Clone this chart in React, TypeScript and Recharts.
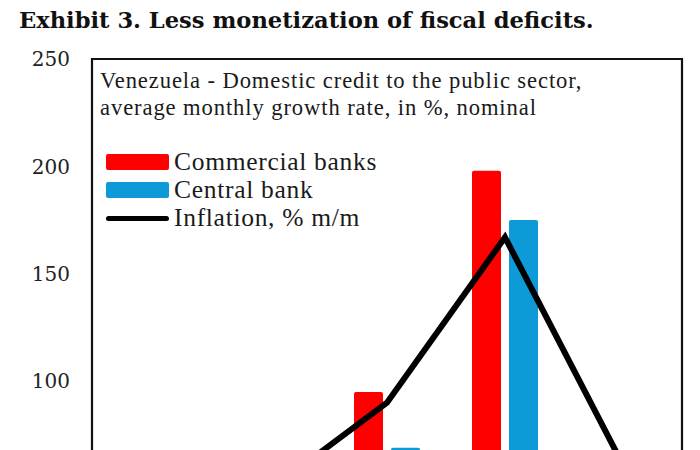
import { Bar, ComposedChart, Legend, Line, ReferenceArea, XAxis, YAxis } from 'recharts'

const RED = '#ff0000'
const BLUE = '#0e9ad6'
const SERIF = '"Liberation Serif", "Times New Roman", serif'

// periods on the x axis (labels fall below the visible crop)
const periods = ['P1', 'P2', 'P3', 'P4', 'P5']
const commercialBanks = [18, 35, 95, 198, 25]
const centralBank = [22, 40, 69, 175, 12]
const inflation = [28, 49, 90, 167, 61]
// only the ticks that show above the crop
const yTicks = [100, 150, 200, 250]

const legendItems = [
  { label: 'Commercial banks', kind: 'bar', color: RED },
  { label: 'Central bank', kind: 'bar', color: BLUE },
  { label: 'Inflation, % m/m', kind: 'line', color: '#000' },
]

function LegendBox() {
  return (
    <div style={{ fontFamily: SERIF, fontSize: 25.5, letterSpacing: 0.7, color: '#1a1a1a' }}>
      {legendItems.map((it) => (
        <div key={it.label} style={{ display: 'flex', alignItems: 'center', height: 28 }}>
          <span
            style={{
              display: 'inline-block',
              width: 63,
              height: it.kind === 'bar' ? 16 : 5,
              borderRadius: it.kind === 'bar' ? 2 : 3,
              background: it.color,
              marginRight: 5,
            }}
          />
          <span style={{ lineHeight: '28px' }}>{it.label}</span>
        </div>
      ))}
    </div>
  )
}

export default function App() {
  const data = periods.map((p, i) => ({
    period: p,
    commercial: commercialBanks[i],
    central: centralBank[i],
    inflation: inflation[i],
  }))

  return (
    <div style={{ position: 'relative', width: 692, height: 442, overflow: 'hidden', background: '#fff' }}>
      <div
        style={{
          position: 'absolute',
          left: 11,
          top: -1,
          fontFamily: '"DejaVu Serif", serif',
          fontWeight: 'bold',
          fontSize: 22.6,
          color: '#111',
          whiteSpace: 'nowrap',
        }}
      >
        Exhibit 3. Less monetization of fiscal deficits.
      </div>
      <div
        style={{
          position: 'absolute',
          left: 92,
          top: 59,
          fontFamily: SERIF,
          fontSize: 22.6,
          letterSpacing: 0.9,
          lineHeight: '27px',
          color: '#1a1a1a',
          zIndex: 2,
          whiteSpace: 'nowrap',
        }}
      >
        Venezuela - Domestic credit to the public sector,
        <br />
        average monthly growth rate, in %, nominal
      </div>
      <ComposedChart
        width={692}
        height={628}
        data={data}
        margin={{ top: 51, right: 18, bottom: 10, left: 0 }}
        barGap={8}
      >
        <XAxis dataKey="period" height={30} axisLine={false} tickLine={false} tick={false} />
        <YAxis
          type="number"
          domain={[0, 250]}
          ticks={yTicks}
          width={84}
          axisLine={false}
          tickLine={false}
          tickSize={0}
          tickMargin={22}
          tick={{ fontFamily: '"DejaVu Serif", serif', fontSize: 20, fill: '#222' }}
        />
        <ReferenceArea y1={0} y2={250} fill="none" stroke="#111" strokeWidth={2.2} ifOverflow="visible" />
        <Bar dataKey="commercial" name="Commercial banks" fill={RED} barSize={29} radius={[2, 2, 0, 0]} isAnimationActive={false} />
        <Bar dataKey="central" name="Central bank" fill={BLUE} barSize={29} radius={[2, 2, 0, 0]} isAnimationActive={false} />
        <Line
          type="linear"
          dataKey="inflation"
          name="Inflation, % m/m"
          stroke="#000"
          strokeWidth={6}
          strokeLinejoin="miter"
          dot={false}
          activeDot={false}
          isAnimationActive={false}
        />
        <Legend
          layout="vertical"
          align="center"
          verticalAlign="middle"
          content={() => <LegendBox />}
          wrapperStyle={{ left: 98, top: 140, width: 'auto' }}
        />
      </ComposedChart>
    </div>
  )
}
